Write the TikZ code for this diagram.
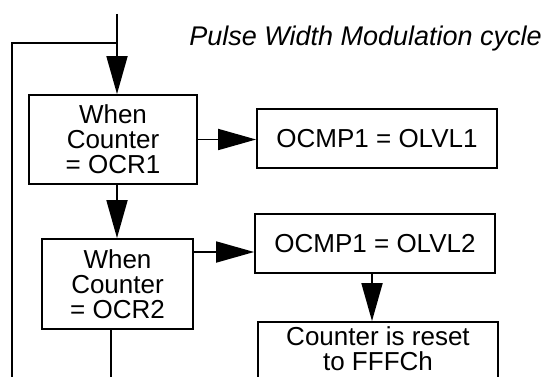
\documentclass[tikz,border=0pt]{standalone}
\usepackage{fontspec}
\setmainfont{Liberation Sans}
\usetikzlibrary{arrows.meta}
\begin{document}
\begin{tikzpicture}[x=1pt,y=-1pt,
  box/.style={draw, line width=1.8pt, inner sep=0pt, align=center, font=\fontsize{26}{25}\selectfont},
  conn/.style={line width=1.8pt, line join=miter},
  arr/.style={conn, -{Triangle[length=38pt,width=21pt]}}]
\useasboundingbox (0,0) rectangle (546,377);
\clip (0,0) rectangle (546,377);
\coordinate (in) at (117,14);
\coordinate (join) at (117,43);
\coordinate (loopb) at (12,385);
\coordinate (outb) at (111,385);
\node[box, minimum width=168pt, minimum height=89pt] (box1) at (113,139.5) {When\\Counter\\= OCR1};
\node[box, minimum width=240pt, minimum height=59pt] (out1) at (377,138.5) {OCMP1 = OLVL1};
\node[box, minimum width=151pt, minimum height=90pt] (box2) at (117.5,284) {When\\Counter\\= OCR2};
\node[box, minimum width=240pt, minimum height=59pt] (out2) at (375,243.5) {OCMP1 = OLVL2};
\node[box, minimum width=240pt, minimum height=62pt, text depth=8pt] (reset) at (378,353) {Counter is reset\\to FFFCh};
\node[font=\itshape\fontsize{27}{28}\selectfont, anchor=base east, inner sep=0pt] (title) at (542,46) {Pulse Width Modulation cycle};
\draw[arr] (in) -- (in |- box1.north);
\draw[conn] (loopb) |- (join);
\draw[arr] (box1.south -| in) -- (box2.north -| in);
\draw[arr] (box1.east) -- (box1.east -| out1.west);
\draw[arr] (box2.east |- 0,252) -- (out2.west |- 0,252);
\draw[arr] (out2.south -| 372,0) -- (reset.north -| 372,0);
\draw[conn] (box2.south -| outb) -- (outb);
\end{tikzpicture}
\end{document}
